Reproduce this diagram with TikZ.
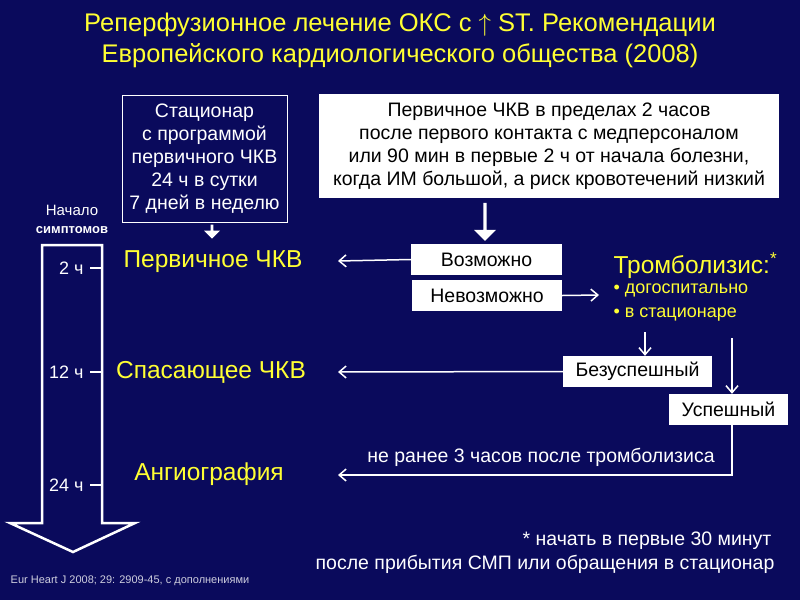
\documentclass[tikz,border=0pt]{standalone}
\usepackage{fontspec}
\setmainfont{Liberation Sans}
\usetikzlibrary{arrows.meta,shapes.arrows}
\definecolor{bg}{HTML}{0A0A5C}
\definecolor{ylw}{HTML}{FFFF33}
\tikzset{
 wbox/.style={draw=none,fill=white,text=black,font=\fontsize{19.5}{23}\selectfont,inner sep=0pt},
 conn/.style={white,line width=1.5pt,-{Straight Barb[length=7pt,width=12pt,line width=1.5pt]}},
 ylab/.style={text=ylw,font=\fontsize{24.5}{28}\selectfont},
 wtxt/.style={text=white,font=\fontsize{19.5}{23}\selectfont},
}
\begin{document}
\begin{tikzpicture}[x=1pt,y=-1pt]
\fill[bg] (0,0) rectangle (800,600);
\useasboundingbox (0,0) rectangle (800,600);
\node[ylab,font=\fontsize{25.5}{31}\selectfont,align=center] (title) at (400,40) {Реперфузионное лечение ОКС с $\uparrow$ ST. Рекомендации\\Европейского кардиологического общества (2008)};
% left box
\node[draw=white,line width=1pt,wtxt,align=center,minimum width=165,minimum height=127,inner sep=0pt] (stac) at (204.5,158.5) {Стационар\\с программой\\первичного ЧКВ\\24 ч в сутки\\7 дней в неделю};
\node[single arrow,shape border rotate=270,fill=white,minimum width=16,single arrow head extend=6,minimum height=14,inner sep=1pt] (sa) at (212,231) {};
% right box
\node[wbox,align=center,minimum width=460,minimum height=104] (pch) at (549,146) {Первичное ЧКВ в пределах 2 часов\\после первого контакта с медперсоналом\\или 90 мин в первые 2 ч от начала болезни,\\когда ИМ большой, а риск кровотечений низкий};
\node[single arrow,shape border rotate=270,fill=white,minimum width=22,single arrow head extend=7,minimum height=38,inner sep=1pt] (ba) at (485,221) {};
\node[wbox,minimum width=151,minimum height=31] (voz) at (486.5,259.5) {Возможно};
\node[wbox,minimum width=150,minimum height=31] (nev) at (487,295.5) {Невозможно};
\coordinate (c1) at (338,261);
\draw[conn] (voz.west) -- (c1);
\node[ylab,anchor=west] (tromb) at (610,266) {Тромболизис:\textsuperscript{*}};
\node[text=ylw,font=\fontsize{18}{24}\selectfont,anchor=north west,align=left] (bul) at (610,280) {• догоспитально\\• в стационаре};
\draw[conn] (nev.east) -- (599,295);
\node[wbox,minimum width=149,minimum height=31] (bez) at (637.5,371.5) {Безуспешный};
\node[wbox,minimum width=119,minimum height=31] (usp) at (728.5,409.5) {Успешный};
\coordinate (b1) at (645,332);
\draw[conn] (b1) -- (bez.north -| b1);
\coordinate (u1) at (732,338);
\draw[conn] (u1) -- (usp.north -| u1);
\coordinate (c2) at (338,372);
\draw[conn] (bez.west) -- (c2);
\coordinate (c3) at (338,475);
\draw[conn] (usp.south -| u1) -- (732,475) -- (c3);
\node[wtxt] (nr) at (541,457) {не ранее 3 часов после тромболизиса};
% time arrow
\draw[white,line width=2.5pt,line join=miter] (42,245) -- (102,245) -- (102,523) -- (135,523) -- (73,552) -- (10,523) -- (42,523) -- cycle;
\node[text=white,font=\fontsize{15}{18}\selectfont,align=center] (nach) at (72,219) {Начало\\\textbf{\fontsize{13}{18}\selectfont симптомов}};
\foreach \y/\t/\n in {268/2 ч/t1,372/12 ч/t2,485/24 ч/t3}{
  \coordinate (k\n) at (90,\y);
  \draw[white,line width=2.5pt] (k\n) -- (102,\y);
  \node[wtxt,anchor=east,font=\fontsize{18}{20}\selectfont] (\n) at (87,\y) {\t};
}
\node[ylab] (l1) at (213,262) {Первичное ЧКВ};
\node[ylab] (l2) at (211,372) {Спасающее ЧКВ};
\node[ylab] (l3) at (209,474) {Ангиография};
\node[wtxt] (f1) at (647,541) {* начать в первые 30 минут};
\node[wtxt] (f2) at (545,564) {после прибытия СМП или обращения в стационар};
\node[text=white!80!bg,font=\fontsize{11}{12}\selectfont] (cit) at (130,581) {Eur Heart J 2008; 29: 2909-45, с дополнениями};
\end{tikzpicture}
\end{document}
